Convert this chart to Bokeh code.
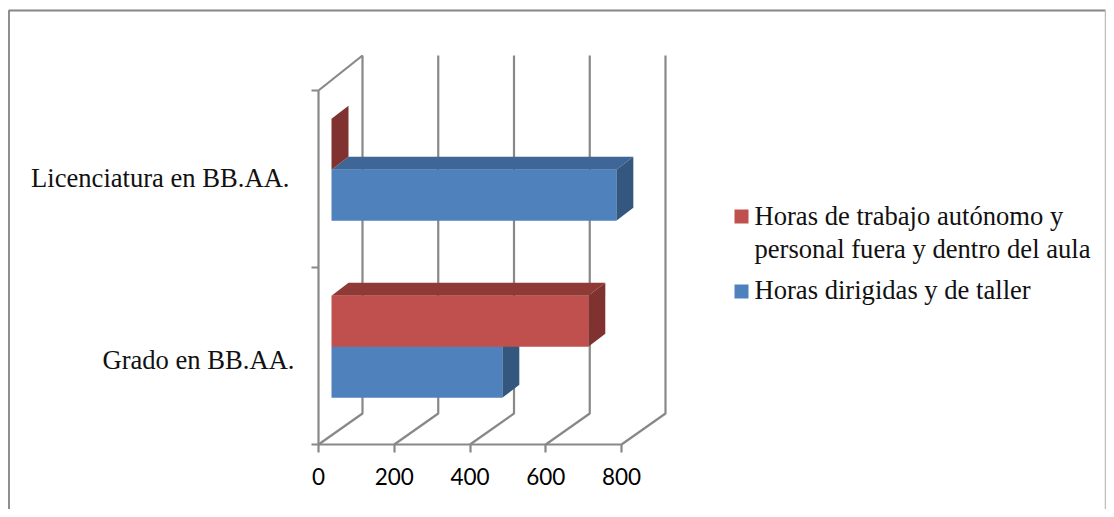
from bokeh.plotting import figure
from bokeh.embed import file_html
from bokeh.resources import INLINE
from bokeh.core.properties import value
from bokeh.models import FixedTicker

# ---- data ----
categories = ["Grado en BB.AA.", "Licenciatura en BB.AA."]
series_names = ["Horas de trabajo autónomo y\npersonal fuera y dentro del aula", "Horas dirigidas y de taller"]
horas_dirigidas = [451, 752]
horas_autonomo = [678, 0]
x_ticks = [0, 200, 400, 600, 800]

# ---- styling / layout ----
W, H = 1106, 509
PX_X, PX_Y = 0.37875, 177.0          # px per value unit, px per category
X0_PX, Y0_PX = 318.0, 444.0          # px of the chart origin in the picture
GRID = "#888888"
LW = 2.2
BLUE = ("#4f81bd", "#3e6696", "#34577f")   # front, top, side
RED = ("#c0504d", "#8f3a37", "#7f322f")
SERIF = value("Liberation Serif")
FS = "26.6px"

def X(px):
    return (px - X0_PX) / PX_X

def Y(py):
    return (Y0_PX - py) / PX_Y

p = figure(width=W, height=H, output_backend="svg", toolbar_location=None,
           x_range=(X(0), X(W)), y_range=(Y(H), Y(0)),
           min_border=0, tools="", background_fill_color="white",
           border_fill_color="white", outline_line_color=None)
p.grid.visible = False

# image frame (no bottom edge)
p.line([X(8.5), X(8.5)], [Y(H), Y(10)], line_color="#8f8f8f", line_width=2)
p.line([X(8), X(W - 1)], [Y(10), Y(10)], line_color="#868686", line_width=2)
p.line([X(W - 1), X(W - 1)], [Y(10), Y(H)], line_color="#bdbdbd", line_width=1.5)

# 3-D walls: depth offset
wall_dx, wall_dy = 44 / PX_X, 31 / PX_Y
top = 2.0
back_top = Y(55)
for t in x_ticks:
    p.line([t, t + wall_dx, t + wall_dx], [0, wall_dy, back_top], line_color=GRID, line_width=LW)
p.line([0, wall_dx], [top, back_top], line_color=GRID, line_width=LW)

# bars
start = 13 / PX_X           # bars float off the front of the floor
depth_x, depth_y = 17 / PX_X, 13 / PX_Y
bar_h = 51 / PX_Y
split = 0.552

def bar(v, y0, cols):
    x0, x1 = start, start + v
    y1 = y0 + bar_h
    p.patch([x0, x1, x1 + depth_x, x0 + depth_x], [y1, y1, y1 + depth_y, y1 + depth_y], fill_color=cols[1], line_color=None)
    p.patch([x1, x1 + depth_x, x1 + depth_x, x1], [y0, y0 + depth_y, y1 + depth_y, y1], fill_color=cols[2], line_color=None)
    if v > 0:
        p.quad(left=x0, right=x1, bottom=y0, top=y1, fill_color=cols[0], line_color=None)

for i in range(len(categories)):
    bar(horas_dirigidas[i], i + split - bar_h, BLUE)
    bar(horas_autonomo[i], i + split, RED)

# axes
xa = p.xaxis[0]
xa.fixed_location = 0
xa.bounds = (0, 800)
xa.ticker = FixedTicker(ticks=x_ticks)
xa.axis_line_color = GRID
xa.axis_line_width = LW
xa.major_tick_line_color = GRID
xa.major_tick_line_width = LW
xa.major_tick_in = 0
xa.major_tick_out = 8
xa.minor_tick_line_color = None
xa.major_label_text_font = "Lato"
xa.major_label_text_font_size = "22.5px"
xa.major_label_text_color = "black"
xa.major_label_standoff = 15

ya = p.yaxis[0]
ya.fixed_location = 0
ya.bounds = (0, 2)
ya.ticker = FixedTicker(ticks=[], minor_ticks=[0, 1, 2])
ya.axis_line_color = GRID
ya.axis_line_width = LW
ya.major_tick_line_color = None
ya.minor_tick_line_color = GRID
ya.minor_tick_line_width = LW
ya.minor_tick_in = 0
ya.minor_tick_out = 7

# category labels
p.text([0, 0], [Y(359), Y(177)], text=categories, x_offset=[-24, -29],
       text_align="right", text_baseline="middle", text_font=SERIF,
       text_font_size=FS, text_color="#111111")

# legend
sq = X(741)
p.scatter([sq], [Y(216)], marker="square", size=14, fill_color=RED[0], line_color=None)
p.scatter([sq], [Y(291)], marker="square", size=14, fill_color=BLUE[0], line_color=None)
lines = series_names[0].split("\n")
tx = X(754)
p.text([tx, tx, tx], [Y(215), Y(248), Y(289)], text=[lines[0], lines[1], series_names[1]],
       text_align="left", text_baseline="alphabetic", text_font=SERIF,
       text_font_size=FS, text_color="#111111")

open("out.html", "w").write(file_html(p, INLINE))
